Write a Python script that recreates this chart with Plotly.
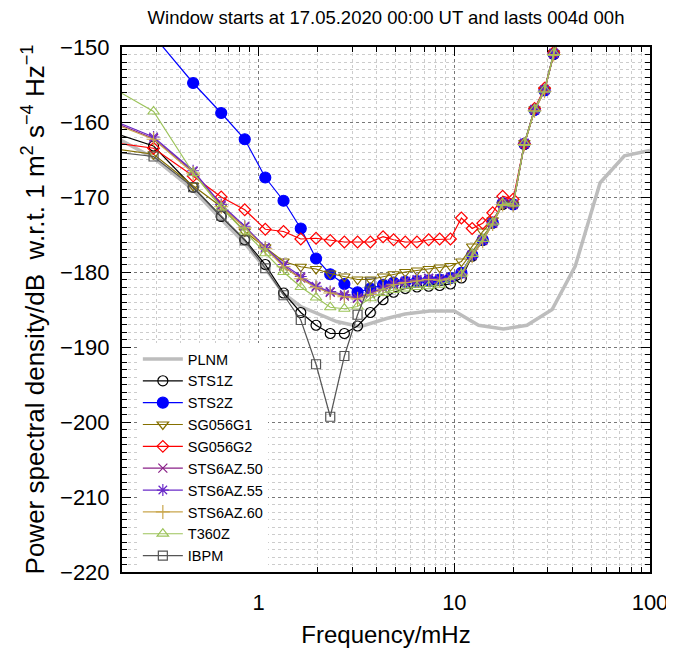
import numpy as np
import plotly.graph_objects as go

# ---------------- data ----------------
freq_mhz = [0.145, 0.290, 0.462, 0.643, 0.848, 1.080, 1.339, 1.640, 1.963, 2.32,
            2.74, 3.20, 3.72, 4.32, 4.89, 5.61, 6.44, 7.39, 8.41, 9.55,
            10.86, 12.33, 13.96, 15.70, 17.66, 19.97, 22.8, 25.7, 28.9, 32.2, 36.1]

sts1z = [-160.6, -163.2, -168.7, -172.6, -175.7, -179.0, -182.8, -185.4, -187.1, -188.2,
         -188.2, -187.2, -185.4, -183.7, -182.7, -182.2, -182.0, -181.9, -181.8, -181.6,
         -180.8, -177.9, -175.8, -173.5, -171.0, -171.0, -163.0, -158.4, -155.8, -151.0, -146.5]

sts2z = [-140.0, -148.5, -154.8, -158.8, -162.3, -167.4, -170.5, -174.2, -178.2, -180.3,
         -181.6, -182.7, -182.2, -181.7, -181.4, -181.3, -181.2, -181.1, -181.0, -180.8,
         -180.1, -177.7, -175.7, -173.4, -170.8, -171.0, -162.9, -158.4, -155.8, -150.9, -146.5]

sg056g1 = [-163.2, -164.3, -168.5, -171.3, -174.6, -176.7, -178.6, -179.3, -179.6, -180.2,
           -180.6, -181.0, -181.0, -180.6, -180.3, -180.0, -179.8, -179.6, -179.4, -179.2,
           -178.6, -176.6, -174.6, -173.1, -171.0, -171.0, -162.8, -158.3, -155.7, -150.8, -146.4]

sg056g2 = [-162.4, -163.5, -167.2, -170.0, -171.7, -174.3, -174.6, -175.6, -175.5, -175.8,
           -176.0, -176.0, -176.0, -175.3, -175.7, -176.0, -176.0, -175.7, -175.6, -175.6,
           -172.8, -174.2, -173.5, -172.1, -169.9, -170.3, -162.9, -158.2, -155.5, -150.7, -146.2]

sts6az50 = [-159.0, -162.2, -166.6, -171.2, -174.0, -176.8, -179.2, -180.8, -182.0, -182.7,
            -183.2, -183.5, -182.9, -182.2, -181.6, -181.3, -181.1, -180.9, -181.0, -180.8,
            -180.3, -177.8, -175.8, -173.5, -170.9, -171.0, -162.9, -158.4, -155.8, -150.9, -146.5]

sts6az55 = [-158.8, -162.0, -166.5, -171.0, -173.9, -176.7, -179.0, -180.6, -181.9, -182.6,
            -183.0, -183.4, -182.8, -182.1, -181.5, -181.2, -181.0, -180.8, -180.9, -180.7,
            -180.2, -177.7, -175.7, -173.4, -170.8, -170.9, -162.8, -158.3, -155.7, -150.8, -146.4]

sts6az60 = [-159.2, -162.3, -166.8, -171.3, -174.1, -176.9, -179.3, -180.9, -182.1, -182.8,
            -183.3, -183.6, -183.0, -182.3, -181.7, -181.4, -181.2, -181.0, -181.1, -180.9,
            -180.4, -177.9, -175.9, -173.6, -171.0, -171.1, -163.0, -158.5, -155.9, -151.0, -146.6]

t360z = [-154.1, -158.6, -166.8, -171.4, -174.6, -177.5, -180.0, -182.0, -183.4, -184.7,
         -184.9, -184.6, -183.5, -182.8, -182.4, -182.2, -182.0, -181.9, -181.7, -181.1,
         -180.3, -177.6, -175.6, -173.4, -170.8, -170.9, -162.8, -158.3, -155.7, -150.8, -146.4]

ibpm_freq = freq_mhz[:13]
ibpm = [-163.7, -164.6, -168.7, -172.5, -175.8, -179.5, -183.1, -186.4, -192.3, -199.3,
        -191.2, -185.7, -181.4]

plnm_freq = [0.145, 0.2, 0.29, 0.46, 0.64, 0.85, 1.08, 1.34, 1.64, 2.0, 2.5, 3.3, 4.5,
             5.6, 7.5, 10.0, 13.3, 17.8, 23.5, 31.6, 41.5, 55.6, 74.0, 100.0]
plnm = [-160.3, -162.5, -164.8, -169.0, -172.9, -176.2, -179.5, -182.9, -184.6, -185.6,
        -186.6, -187.3, -186.2, -185.6, -185.2, -185.2, -187.1, -187.6, -187.1, -185.0,
        -179.2, -168.1, -164.5, -163.8]

x_tick_vals = [1, 10, 100]
x_tick_text = ["1", "10", "100"]
x_minor_vals = [0.2, 0.3, 0.4, 0.5, 0.6, 0.7, 0.8, 0.9,
                2, 3, 4, 5, 6, 7, 8, 9, 20, 30, 40, 50, 60, 70, 80, 90]

title_text = "Window starts at 17.05.2020 00:00 UT and lasts 004d 00h"
xlabel = "Frequency/mHz"
ylabel = "Power spectral density/dB  w.r.t. 1 m<sup>2</sup> s<sup>\u22124</sup> Hz<sup>\u22121</sup>"

FONT = "Liberation Sans, Arial, Helvetica, sans-serif"

# the page body adds an 8 px offset, so the figure is 8 px smaller on each side
W, H = 666, 641

fig = go.Figure()

fig.add_trace(go.Scatter(x=plnm_freq, y=plnm, name="PLNM", mode="lines",
                         line=dict(color="#bdbdbd", width=3.5)))

series = [
    ("STS1Z", freq_mhz, sts1z, "#000000", "circle-open", 10),
    ("STS2Z", freq_mhz, sts2z, "#0000ff", "circle", 11),
    ("SG056G1", freq_mhz, sg056g1, "#857000", "triangle-down-open", 10),
    ("SG056G2", freq_mhz, sg056g2, "#ff0000", "diamond-open", 9),
    ("STS6AZ.50", freq_mhz, sts6az50, "#8a2188", "x-thin-open", 9),
    ("STS6AZ.55", freq_mhz, sts6az55, "#6a2bc8", "asterisk-open", 10),
    ("STS6AZ.60", freq_mhz, sts6az60, "#c9a64c", "cross-thin-open", 10),
    ("T360Z", freq_mhz, t360z, "#9cc35a", "triangle-up-open", 10),
    ("IBPM", ibpm_freq, ibpm, "#555555", "square-open", 9),
]
for name, fx, fy, col, sym, size in series:
    fig.add_trace(go.Scatter(
        x=fx, y=fy, name=name, mode="lines+markers",
        line=dict(color=col, width=1.2),
        marker=dict(symbol=sym, size=size, color=col,
                    line=dict(color=col, width=1.2)),
    ))

fig.update_layout(
    width=W, height=H,
    margin=dict(l=114, r=24, t=39, b=77, autoexpand=False),
    paper_bgcolor="white", plot_bgcolor="white",
    font=dict(family=FONT, color="black", size=22),
    title=dict(text=title_text, x=0.5, xref="paper", xanchor="center",
               y=1 - 3 / H, yref="container", yanchor="top", font=dict(size=18.5)),
    showlegend=True,
    legend=dict(x=0.03, y=0.0, xanchor="left", yanchor="bottom",
                bgcolor="white", borderwidth=0, font=dict(size=14.5),
                itemwidth=40, tracegroupgap=0),
)

fig.update_xaxes(
    type="log", range=[np.log10(0.2), 2], automargin=False,
    tickvals=x_tick_vals, ticktext=x_tick_text,
    ticks="inside", ticklen=9, tickwidth=1, tickcolor="black",
    showline=True, linecolor="black", linewidth=2, mirror="allticks",
    showgrid=True, gridcolor="#777777", griddash="dot", gridwidth=1,
    zeroline=False, ticklabelstandoff=10, ticklabeloverflow="allow",
    minor=dict(tickvals=x_minor_vals, ticks="inside", ticklen=5, tickcolor="black",
               showgrid=True, gridcolor="#cccccc", griddash="dot", gridwidth=1),
    title=dict(text=xlabel, font=dict(size=24), standoff=12),
)
fig.update_yaxes(
    range=[-220, -150], dtick=10, tick0=-220, automargin=False,
    ticks="inside", ticklen=9, tickwidth=1, tickcolor="black",
    showline=True, linecolor="black", linewidth=2, mirror="allticks",
    showgrid=True, gridcolor="#777777", griddash="dot", gridwidth=1,
    zeroline=False, ticklabelstandoff=6,
    minor=dict(dtick=1, ticks="inside", ticklen=5, tickcolor="black",
               showgrid=True, gridcolor="#cccccc", griddash="dot", gridwidth=1),
    title=dict(text=ylabel, font=dict(size=26), standoff=8),
)

fig.write_html("out.html")
